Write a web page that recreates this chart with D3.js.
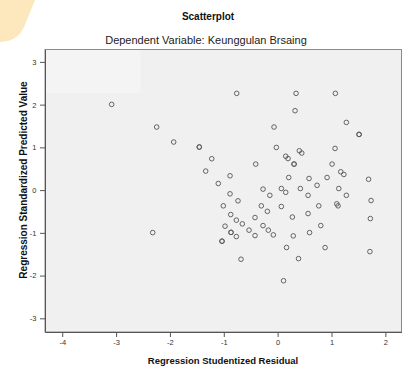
<!DOCTYPE html>
<html>
<head>
<meta charset="utf-8">
<script src="https://cdn.jsdelivr.net/npm/d3@7/dist/d3.min.js"></script>
<style>
  html, body { margin: 0; padding: 0; background: #fff; }
  svg { display: block; }
  text { font-family: Arial, "Liberation Sans", sans-serif; }
</style>
</head>
<body>
<svg id="chart" width="406" height="367"></svg>
<script>
// ---- data ----
const title = "Scatterplot";
const subtitle = "Dependent Variable: Keunggulan Brsaing";
const xLabel = "Regression Studentized Residual";
const yLabel = "Regression Standardized Predicted Value";
const xTicks = [-4, -3, -2, -1, 0, 1, 2];
const yTicks = [-3, -2, -1, 0, 1, 2, 3];
const xDomain = [-4.32, 2.30];
const yDomain = [-3.32, 3.29];

// studentized residuals
const residuals = [
  -3.082, -2.246, -1.930, -1.455, -1.455, -1.224, -1.336, -1.102,
  -0.760, 0.342, 1.072, 0.323, -0.067, 1.276, 1.512, 1.512,
  -0.024, 0.403, 0.448, 0.150, 0.193, 1.066, -0.407, 0.305,
  0.305, 1.011, -0.884, 1.172, 1.230, 0.206, 0.583, 0.918,
  1.689, 0.732, -0.271, 0.069, 0.422, 1.135, -0.884, -0.145,
  0.150, 0.565, 1.276, -0.736, 1.735, -1.009, -0.303, -0.191,
  0.069, 0.764, 1.098, 1.122, -0.871, -0.767, -0.656, -0.420,
  0.273, 0.565, 1.722, -0.977, -0.866, -0.866, -0.767, -0.531,
  -0.420, -0.271, -0.173, -0.080, 0.290, 0.593, 0.801, -1.033,
  -1.033, 0.165, 0.881, 1.713, -0.680, 0.388, 0.110, -2.320
];
// standardized predicted values
const predicted = [
  2.006, 1.476, 1.125, 1.008, 1.008, 0.734, 0.445, 0.155,
  2.264, 2.264, 2.264, 1.858, 1.476, 1.584, 1.303, 1.303,
  0.998, 0.921, 0.867, 0.792, 0.738, 0.975, 0.609, 0.609,
  0.609, 0.609, 0.335, 0.429, 0.366, 0.295, 0.272, 0.295,
  0.253, 0.112, 0.023, 0.037, 0.037, 0.037, -0.087, -0.122,
  -0.052, -0.122, -0.122, -0.251, -0.244, -0.368, -0.368, -0.497,
  -0.384, -0.368, -0.321, -0.368, -0.572, -0.703, -0.790, -0.642,
  -0.630, -0.548, -0.666, -0.844, -0.989, -0.989, -1.087, -0.937,
  -1.064, -0.830, -0.937, -1.048, -1.071, -0.994, -0.830, -1.195,
  -1.195, -1.343, -1.345, -1.439, -1.617, -1.603, -2.121, -0.994
];

// ---- drawing ----
const svg = d3.select("#chart");
const L = 45, R = 401.5, T = 49.5, B = 332;

const x = d3.scaleLinear().domain(xDomain).range([L, R]);
const y = d3.scaleLinear().domain(yDomain).range([B, T]);

// decorative watermark corner
svg.append("path")
  .attr("d", "M0,0 L35,0 L24,27 Q19,38 8,41 L0,42 Z")
  .attr("fill", "#fde7bd");

// plot background
svg.append("rect")
  .attr("x", L).attr("y", T).attr("width", R - L).attr("height", B - T)
  .attr("fill", "#f0f0f0").attr("stroke", "#8a8a8a").attr("stroke-width", 1);
svg.append("rect")
  .attr("x", L + 0.5).attr("y", T + 0.5).attr("width", 95).attr("height", 43)
  .attr("fill", "#f4f4f4");

// titles
svg.append("text").attr("x", 208).attr("y", 19.5).attr("text-anchor", "middle")
  .attr("font-size", "10px").attr("font-weight", "bold").attr("fill", "#111").text(title);
svg.append("text").attr("x", 206).attr("y", 44).attr("text-anchor", "middle")
  .attr("font-size", "11px").attr("fill", "#222").text(subtitle);

// axes
const xAxis = d3.axisBottom(x).tickValues(xTicks).tickSize(5).tickSizeOuter(0).tickFormat(d => String(d));
const yAxis = d3.axisLeft(y).tickValues(yTicks).tickSize(5).tickSizeOuter(0).tickFormat(d => String(d));

const gx = svg.append("g").attr("transform", `translate(0,${B})`).call(xAxis);
const gy = svg.append("g").attr("transform", `translate(${L},0)`).call(yAxis);
[gx, gy].forEach(g => {
  g.select(".domain").attr("stroke", "#555");
  g.selectAll(".tick line").attr("stroke", "#555");
  g.selectAll(".tick text").attr("font-size", "7.5px").attr("fill", "#333")
    .attr("font-family", "Arial, 'Liberation Sans', sans-serif");
});
gx.selectAll(".tick text").attr("dy", "0.6em");
gy.selectAll(".tick text").attr("x", -8.5);

// axis labels
svg.append("text").attr("x", 223).attr("y", 363.5).attr("text-anchor", "middle")
  .attr("font-size", "9.5px").attr("font-weight", "bold").attr("fill", "#111").text(xLabel);
svg.append("text").attr("transform", "translate(26.5,180) rotate(-90)").attr("text-anchor", "middle")
  .attr("font-size", "10px").attr("font-weight", "bold").attr("fill", "#111").text(yLabel);

// points
const pts = residuals.map((r, i) => ({ r, p: predicted[i] }));
svg.append("g").selectAll("circle").data(pts).join("circle")
  .attr("cx", d => x(d.r)).attr("cy", d => y(d.p)).attr("r", 2.3)
  .attr("fill", "none").attr("stroke", "#555").attr("stroke-width", 0.9);
</script>
</body>
</html>
